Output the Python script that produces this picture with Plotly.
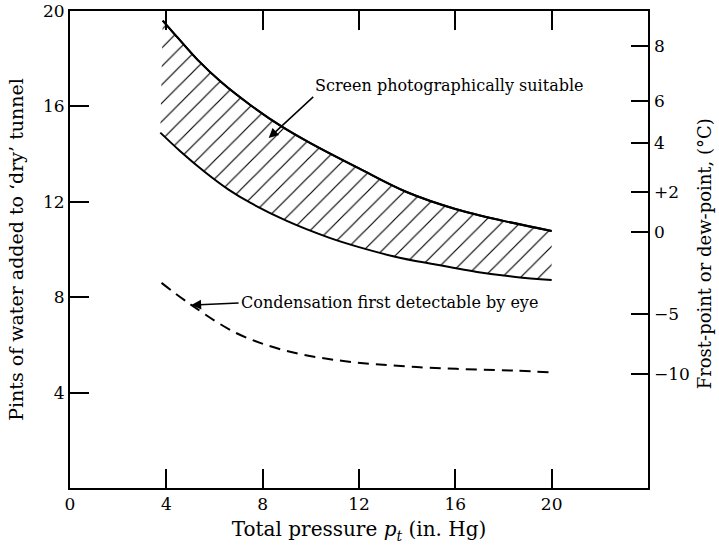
import plotly.graph_objects as go

# ---- data ----
pressure_upper = [3.85, 4.5, 5.3, 6.3, 7.5, 8.8, 10.0, 12.0, 14.0, 16.0, 18.0, 20.0]
pints_upper = [19.6, 18.85, 17.95, 17.0, 16.05, 15.15, 14.45, 13.4, 12.4, 11.7, 11.2, 10.78]

pressure_lower = [3.75, 4.6, 5.6, 6.6, 7.5, 9.0, 10.75, 12.0, 13.5, 15.0, 16.9, 18.5, 20.0]
pints_lower = [14.9, 14.1, 13.25, 12.5, 11.95, 11.2, 10.5, 10.1, 9.7, 9.4, 9.06, 8.85, 8.72]

pressure_dash = [3.8, 5.0, 6.9, 8.8, 11.0, 14.4, 18.5, 20.0]
pints_dash = [8.6, 7.7, 6.5, 5.8, 5.37, 5.07, 4.92, 4.85]

x_ticks = [0, 4, 8, 12, 16, 20]
y_ticks = [4, 8, 12, 16, 20]
frost_labels = ["8", "6", "4", "+2", "0", "\u22125", "\u221210"]
frost_pos = [18.53, 16.23, 14.46, 12.41, 10.73, 7.3, 4.78]

FONT = "DejaVu Serif"

fig = go.Figure()

# hatched band (fill between lower and upper curve)
fig.add_trace(go.Scatter(x=pressure_lower, y=pints_lower, mode="lines",
                         line=dict(color="black", width=2, shape="spline"),
                         hoverinfo="skip", showlegend=False))
fig.add_trace(go.Scatter(x=pressure_upper, y=pints_upper, mode="lines",
                         line=dict(color="black", width=2, shape="spline"),
                         fill="tonexty", fillcolor="rgba(0,0,0,0)",
                         fillpattern=dict(shape="/", size=13, solidity=0.09,
                                          fgcolor="black", bgcolor="white",
                                          fillmode="replace"),
                         hoverinfo="skip", showlegend=False))
fig.add_trace(go.Scatter(x=pressure_upper, y=pints_upper, mode="lines",
                         line=dict(color="black", width=2, shape="spline"),
                         hoverinfo="skip", showlegend=False))

# dashed condensation curve (on secondary axis, same range)
fig.add_trace(go.Scatter(x=pressure_dash, y=pints_dash, mode="lines", yaxis="y2",
                         line=dict(color="black", width=2, dash="11px,7px", shape="spline"),
                         hoverinfo="skip", showlegend=False))

fig.add_annotation(x=8.25, y=14.67, ax=10.1, ay=16.4, axref="x", ayref="y",
                   xref="x", yref="y", showarrow=True, arrowhead=2, arrowsize=1.3,
                   arrowwidth=1.5, arrowcolor="black",
                   text="Screen photographically suitable",
                   xanchor="left", yanchor="bottom",
                   font=dict(family=FONT, size=16, color="black"))
fig.add_annotation(x=5.04, y=7.67, ax=7.0, ay=7.76, axref="x", ayref="y",
                   xref="x", yref="y", showarrow=True, arrowhead=2, arrowsize=1.3,
                   arrowwidth=1.5, arrowcolor="black",
                   text="Condensation first detectable by eye",
                   xanchor="left", yanchor="middle",
                   font=dict(family=FONT, size=16, color="black"))
# right-hand axis title
fig.add_annotation(x=1.097, y=0.49, xref="paper", yref="paper",
                   text="Frost-point or dew-point, (\u00b0C)", textangle=-90,
                   showarrow=False, xanchor="center", yanchor="middle",
                   font=dict(family=FONT, size=18, color="black"))

fig.update_layout(
    width=719, height=548,
    margin=dict(l=70, r=71, t=11, b=60, autoexpand=False),
    paper_bgcolor="white", plot_bgcolor="white",
    font=dict(family=FONT, size=17, color="black"),
    showlegend=False,
    xaxis=dict(range=[0, 24], tickvals=x_ticks, ticktext=[str(v) for v in x_ticks],
               ticks="inside", ticklen=19, tickwidth=1.5, tickcolor="black",
               showline=True, linewidth=2, linecolor="black", mirror="ticks",
               showgrid=False, zeroline=False, automargin=False,
               title=dict(text="Total pressure <i>p</i><sub><i>t</i></sub> (in. Hg)",
                          font=dict(family=FONT, size=20), standoff=9)),
    yaxis=dict(range=[0, 20], tickvals=y_ticks, ticktext=[str(v) for v in y_ticks],
               ticks="inside", ticklen=19, tickwidth=1.5, tickcolor="black",
               showline=True, linewidth=2, linecolor="black", mirror=True,
               showgrid=False, zeroline=False, automargin=False,
               title=dict(text="Pints of water added to \u2018dry\u2019 tunnel",
                          font=dict(family=FONT, size=19), standoff=14)),
    yaxis2=dict(range=[0, 20], overlaying="y", side="right", anchor="x",
                tickvals=frost_pos, ticktext=frost_labels, ticklabelstandoff=5,
                ticks="inside", ticklen=17, tickwidth=1.5, tickcolor="black",
                showline=False, showgrid=False, zeroline=False, automargin=False),
)

fig.write_html("out.html", config={"displayModeBar": False},
               post_script="document.body.style.margin='0';")
